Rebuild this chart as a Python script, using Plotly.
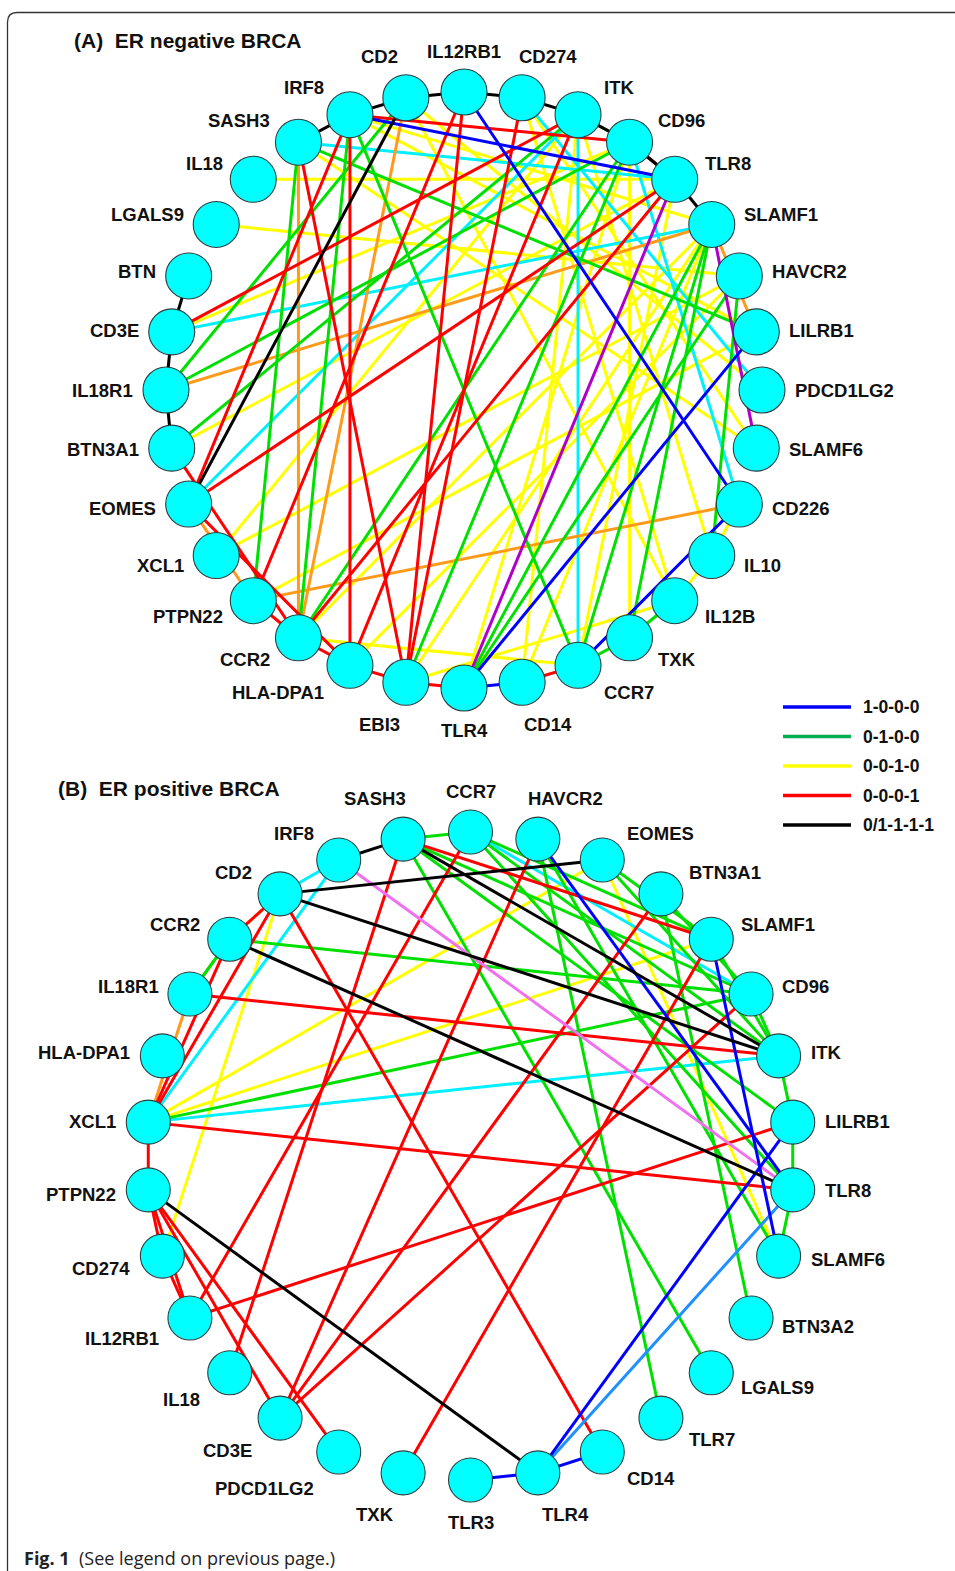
import math
import plotly.graph_objects as go

# ------------------------------------------------------------------ data
# Panel A: ER negative BRCA, nodes clockwise from the top
A_NODES = ["IL12RB1", "CD274", "ITK", "CD96", "TLR8", "SLAMF1", "HAVCR2", "LILRB1",
           "PDCD1LG2", "SLAMF6", "CD226", "IL10", "IL12B", "TXK", "CCR7", "CD14",
           "TLR4", "EBI3", "HLA-DPA1", "CCR2", "PTPN22", "XCL1", "EOMES", "BTN3A1",
           "IL18R1", "CD3E", "BTN", "LGALS9", "IL18", "SASH3", "IRF8", "CD2"]

A_EDGES_1000 = [("IRF8", "TLR8"), ("IL12RB1", "CD226"), ("TLR4", "LILRB1"),
                ("CCR7", "CD226"), ("TLR4", "CD14")]
A_EDGES_0100 = [("SASH3", "LILRB1"), ("SASH3", "PTPN22"), ("IRF8", "CCR2"), ("IRF8", "CCR7"),
                ("CD2", "IL18R1"), ("BTN3A1", "ITK"), ("IL18R1", "CD96"), ("SLAMF1", "CCR7"),
                ("SLAMF1", "TXK"), ("TLR4", "HAVCR2"), ("TLR4", "SLAMF1"), ("HAVCR2", "IL10"),
                ("CCR2", "CD96"), ("CD96", "EBI3"), ("TXK", "IL12B"), ("CCR7", "TXK"),
                ("ITK", "CD96")]
A_EDGES_0010 = [("IL18", "TLR8"), ("LGALS9", "HAVCR2"), ("SASH3", "SLAMF6"), ("IRF8", "SLAMF1"),
                ("IRF8", "LILRB1"), ("CD3E", "CD96"), ("BTN3A1", "TLR8"), ("XCL1", "ITK"),
                ("PTPN22", "LILRB1"), ("CCR2", "SLAMF1"), ("CCR2", "CCR7"), ("HLA-DPA1", "HAVCR2"),
                ("CD96", "TXK"), ("XCL1", "HAVCR2"), ("CD2", "IL12B"), ("CD14", "ITK"),
                ("IL12B", "EBI3"), ("TLR8", "CCR7"), ("CD274", "SLAMF6"), ("ITK", "IL10"),
                ("CD2", "PDCD1LG2"), ("IL10", "CD226"), ("IL12B", "IL10"), ("CD14", "SLAMF1"),
                ("TLR4", "CD96"), ("EBI3", "SLAMF1"), ("CD274", "IL12B")]
A_EDGES_0001 = [("IRF8", "CD96"), ("IRF8", "HLA-DPA1"), ("IRF8", "EOMES"), ("SASH3", "EBI3"),
                ("IL12RB1", "EBI3"), ("IL12RB1", "PTPN22"), ("CD3E", "ITK"), ("EOMES", "TLR8"),
                ("CCR2", "TLR8"), ("HLA-DPA1", "ITK"), ("EBI3", "CD274"), ("BTN3A1", "CCR2"),
                ("EOMES", "HLA-DPA1"), ("CCR2", "HLA-DPA1"), ("HLA-DPA1", "EBI3"),
                ("EBI3", "TLR4"), ("CD14", "CCR7"), ("CD96", "TLR8"), ("PTPN22", "CCR2")]
A_EDGES_X111 = [("BTN", "CD3E"), ("CD3E", "IL18R1"), ("IL18R1", "BTN3A1"), ("SASH3", "IRF8"),
                ("IRF8", "CD2"), ("CD2", "IL12RB1"), ("IL12RB1", "CD274"), ("CD274", "ITK"),
                ("ITK", "CD96"), ("CD96", "TLR8"), ("TLR8", "SLAMF1"), ("CD2", "EOMES")]
A_EDGES_CYAN = [("SASH3", "TLR8"), ("CD3E", "SLAMF1"), ("ITK", "CCR7"), ("EOMES", "ITK"),
                ("CD96", "CD226"), ("CD274", "PDCD1LG2")]
A_EDGES_ORANGE = [("SASH3", "CCR2"), ("CD2", "CCR2"), ("IL18R1", "SLAMF1"), ("PTPN22", "CD226"),
                  ("EOMES", "PTPN22"), ("SLAMF1", "LILRB1")]
A_EDGES_PURPLE = [("TLR4", "TLR8"), ("SLAMF1", "SLAMF6")]

# Panel B: ER positive BRCA, nodes clockwise from the top
B_NODES = ["CCR7", "HAVCR2", "EOMES", "BTN3A1", "SLAMF1", "CD96", "ITK", "LILRB1", "TLR8",
           "SLAMF6", "BTN3A2", "LGALS9", "TLR7", "CD14", "TLR4", "TLR3", "TXK", "PDCD1LG2",
           "CD3E", "IL18", "IL12RB1", "CD274", "PTPN22", "XCL1", "HLA-DPA1", "IL18R1",
           "CCR2", "CD2", "IRF8", "SASH3"]

B_EDGES_1000 = [("HAVCR2", "TLR8"), ("SLAMF1", "SLAMF6"), ("TLR4", "LILRB1"),
                ("TLR4", "TLR3"), ("TLR4", "CD14")]
B_EDGES_0100 = [("SASH3", "CD96"), ("SASH3", "LILRB1"), ("SASH3", "LGALS9"), ("HAVCR2", "TLR7"),
                ("BTN3A1", "BTN3A2"), ("CCR7", "ITK"), ("CCR7", "SLAMF1"), ("CCR7", "TLR8"),
                ("HAVCR2", "SLAMF6"), ("EOMES", "ITK"), ("EOMES", "SLAMF1"), ("BTN3A1", "CD96"),
                ("SLAMF1", "ITK"), ("CD96", "ITK"), ("ITK", "LILRB1"), ("LILRB1", "TLR8"),
                ("TLR8", "SLAMF6"), ("XCL1", "CD96"), ("CCR2", "CD96"), ("CCR2", "IL18R1"),
                ("SASH3", "CCR7")]
B_EDGES_0010 = [("CD2", "CD274"), ("XCL1", "EOMES"), ("XCL1", "SLAMF1"), ("CCR2", "CD2"),
                ("EOMES", "SLAMF6")]
B_EDGES_0001 = [("SASH3", "SLAMF1"), ("SASH3", "IL18"), ("CCR7", "IL12RB1"), ("HAVCR2", "CD3E"),
                ("BTN3A1", "CD3E"), ("CD96", "CD3E"), ("SLAMF1", "TXK"), ("LILRB1", "IL12RB1"),
                ("XCL1", "TLR8"), ("IL18R1", "ITK"), ("CD2", "CD14"), ("CD2", "XCL1"),
                ("CCR2", "XCL1"), ("CD2", "CCR2"), ("XCL1", "PTPN22"), ("PTPN22", "CD274"),
                ("PTPN22", "IL12RB1"), ("PTPN22", "CD3E"), ("PTPN22", "PDCD1LG2"),
                ("CD274", "IL12RB1")]
B_EDGES_X111 = [("IRF8", "SASH3"), ("CD2", "EOMES"), ("SASH3", "ITK"), ("CD2", "ITK"),
                ("CCR2", "TLR8"), ("PTPN22", "TLR4")]
B_EDGES_CYAN = [("IRF8", "XCL1"), ("XCL1", "ITK"), ("CCR7", "CD96"), ("CD2", "IRF8")]
B_EDGES_ORANGE = [("IL18R1", "XCL1"), ("CCR2", "IL18R1")]
B_EDGES_VIOLET = [("IRF8", "TLR8")]
B_EDGES_SKY = [("TLR4", "TLR8")]

LEGEND_LABELS = ["1-0-0-0", "0-1-0-0", "0-0-1-0", "0-0-0-1", "0/1-1-1-1"]

# ------------------------------------------------------------------ style
W, H = 955, 1571
C_BLUE, C_GREEN, C_YELLOW, C_RED, C_BLACK = "#0000FF", "#00E000", "#FFFF00", "#FF0000", "#000000"
C_CYAN, C_ORANGE, C_PURPLE, C_VIOLET, C_SKY = "#00F0FF", "#FF9A1A", "#B000C8", "#F070F0", "#1E90FF"
LEGEND_COLORS = ["#0000FF", "#00B050", "#FFFF00", "#FF0000", "#000000"]
NODE_FILL, NODE_EDGE = "#00FFFF", "#2E3E3E"
LABEL_FONT = dict(family="Liberation Sans, Arial, sans-serif", size=18.5, color="#111111")
EDGE_W = 3.0

fig = go.Figure()


def ring(names, cx, cy, R):
    n = len(names)
    out = {}
    for i, nm in enumerate(names):
        th = 2 * math.pi * i / n
        out[nm] = (cx + R * math.sin(th), cy - R * math.cos(th), th)
    return out


def add_edges(pos, edges, color, width=EDGE_W):
    xs, ys = [], []
    for a, b in edges:
        xa, ya, _ = pos[a]
        xb, yb, _ = pos[b]
        xs += [xa, xb, None]
        ys += [ya, yb, None]
    fig.add_trace(go.Scatter(x=xs, y=ys, mode="lines", line=dict(color=color, width=width),
                             hoverinfo="skip", showlegend=False))


def add_nodes(pos, names, diam, lower_left_k=None):
    fig.add_trace(go.Scatter(
        x=[pos[n][0] for n in names], y=[pos[n][1] for n in names], mode="markers",
        marker=dict(size=diam, color=NODE_FILL, line=dict(color=NODE_EDGE, width=1.1)),
        hoverinfo="skip", showlegend=False))
    r = diam / 2
    for n in names:
        x, y, th = pos[n]
        s, c = math.sin(th), math.cos(th)
        txt = "<b>%s</b>" % n
        dy = -32 * c * abs(c)
        gap = r + 8 - 10 * c ** 4
        if abs(s) < 0.3:
            fig.add_annotation(x=x + s * 135, y=y - (41 if c > 0 else -42), text=txt,
                               showarrow=False, xanchor="center", yanchor="middle", font=LABEL_FONT)
        elif s > 0:
            fig.add_annotation(x=x + gap, y=y + dy, text=txt,
                               showarrow=False, xanchor="left", yanchor="middle", font=LABEL_FONT)
        else:
            if lower_left_k is not None and c < 0:
                dy = -lower_left_k * c
            fig.add_annotation(x=x - gap, y=y + dy, text=txt,
                               showarrow=False, xanchor="right", yanchor="middle", font=LABEL_FONT)


# Panel A
pa = ring(A_NODES, 464, 390, 298)
add_edges(pa, A_EDGES_0010, C_YELLOW)
add_edges(pa, A_EDGES_CYAN, C_CYAN)
add_edges(pa, A_EDGES_ORANGE, C_ORANGE)
add_edges(pa, A_EDGES_0100, C_GREEN)
add_edges(pa, A_EDGES_0001, C_RED)
add_edges(pa, A_EDGES_PURPLE, C_PURPLE)
add_edges(pa, A_EDGES_1000, C_BLUE)
add_edges(pa, A_EDGES_X111, C_BLACK)
add_nodes(pa, A_NODES, 46)

# Panel B
pb = ring(B_NODES, 470.5, 1156, 324)
add_edges(pb, B_EDGES_0010, C_YELLOW)
add_edges(pb, B_EDGES_CYAN, C_CYAN)
add_edges(pb, B_EDGES_ORANGE, C_ORANGE)
add_edges(pb, B_EDGES_0100, C_GREEN)
add_edges(pb, B_EDGES_0001, C_RED)
add_edges(pb, B_EDGES_VIOLET, C_VIOLET)
add_edges(pb, B_EDGES_SKY, C_SKY)
add_edges(pb, B_EDGES_1000, C_BLUE)
add_edges(pb, B_EDGES_X111, C_BLACK)
add_nodes(pb, B_NODES, 44, lower_left_k=40)

# Legend
for i, (lab, col) in enumerate(zip(LEGEND_LABELS, LEGEND_COLORS)):
    y = 707 + 29.5 * i
    fig.add_trace(go.Scatter(x=[783, 851], y=[y, y], mode="lines", line=dict(color=col, width=3.6),
                             hoverinfo="skip", showlegend=False))
    fig.add_annotation(x=861, y=y, text="<b>%s</b>" % lab, showarrow=False, xanchor="left",
                       yanchor="middle", font=dict(family="Liberation Sans, Arial", size=17.5, color="#111"))

# Titles
fig.add_annotation(x=72, y=40, text="<b>(A)\u00a0\u00a0ER negative BRCA</b>", showarrow=False,
                   xanchor="left", yanchor="middle",
                   font=dict(family="Liberation Sans, Arial", size=21, color="#111"))
fig.add_annotation(x=56, y=788, text="<b>(B)\u00a0\u00a0ER positive BRCA</b>", showarrow=False,
                   xanchor="left", yanchor="middle",
                   font=dict(family="Liberation Sans, Arial", size=21, color="#111"))

# Caption
fig.add_annotation(x=22, y=1558, text="<b>Fig. 1</b>\u00a0\u00a0(See legend on previous page.)",
                   showarrow=False, xanchor="left", yanchor="middle",
                   font=dict(family="Open Sans, Noto Sans", size=18, color="#222"))

# Frame
fig.add_shape(type="path", path="M 7.5,1575 L 7.5,22 Q 7.5,12.5 17,12.5 L 960,12.5",
              line=dict(color="#333", width=1.3), layer="below")

fig.update_layout(
    width=W, height=H, margin=dict(l=0, r=0, t=0, b=0),
    paper_bgcolor="white", plot_bgcolor="white", showlegend=False,
    xaxis=dict(range=[0, W], visible=False, fixedrange=True),
    yaxis=dict(range=[H, 0], visible=False, fixedrange=True),
)

fig.write_html("out.html", config={"displayModeBar": False},
               post_script="document.body.style.margin='0';document.body.style.overflow='hidden';")
